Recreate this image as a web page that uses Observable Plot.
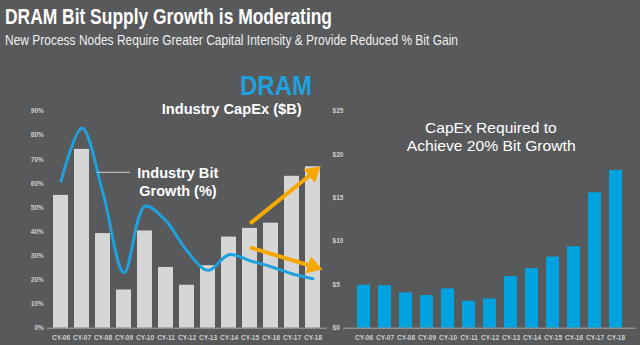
<!DOCTYPE html>
<html><head><meta charset="utf-8">
<script src="https://cdn.jsdelivr.net/npm/d3@7"></script>
<script src="https://cdn.jsdelivr.net/npm/@observablehq/plot@0.6"></script>
<style>
html,body{margin:0;padding:0;background:#58595b;}
#wrap{position:relative;width:640px;height:345px;overflow:hidden;background:#58595b;font-family:"Liberation Sans",Arial,sans-serif;}
#left,#right{position:absolute;top:100px;}
#left{left:0px;}
#right{left:320px;}
#ann{position:absolute;left:0;top:0;pointer-events:none;}
</style></head><body>
<div id="wrap"><div id="left"></div><div id="right"></div>
<svg id="ann" width="640" height="345" font-family="Liberation Sans, Arial, sans-serif">
  <text x="5" y="23.5" font-size="22" font-weight="bold" fill="#ffffff" textLength="327" lengthAdjust="spacingAndGlyphs">DRAM Bit Supply Growth is Moderating</text>
  <text x="5" y="45" font-size="14" fill="#eeeeee" textLength="453" lengthAdjust="spacingAndGlyphs">New Process Nodes Require Greater Capital Intensity &amp; Provide Reduced % Bit Gain</text>
  <text x="240" y="95" font-size="28" font-weight="bold" fill="#1ea1dc" textLength="72" lengthAdjust="spacingAndGlyphs">DRAM</text>
  <text x="161.7" y="114.3" font-size="14" font-weight="bold" fill="#ffffff" textLength="140" lengthAdjust="spacingAndGlyphs">Industry CapEx ($B)</text>
  <text x="137.3" y="177.5" font-size="14.5" font-weight="bold" fill="#ffffff" textLength="81" lengthAdjust="spacingAndGlyphs">Industry Bit</text>
  <text x="139.3" y="195.7" font-size="14.5" font-weight="bold" fill="#ffffff" textLength="77.4" lengthAdjust="spacingAndGlyphs">Growth (%)</text>
  <line x1="97" y1="172.3" x2="130" y2="172.3" stroke="#d0d0d0" stroke-width="1"/>
  <text x="425" y="133.2" font-size="15" fill="#ffffff" textLength="131.7" lengthAdjust="spacingAndGlyphs">CapEx Required to</text>
  <text x="406.7" y="151.3" font-size="15" fill="#ffffff" textLength="169" lengthAdjust="spacingAndGlyphs">Achieve 20% Bit Growth</text>
</svg>
</div>
<script>
const years = ["CY-06","CY-07","CY-08","CY-09","CY-10","CY-11","CY-12","CY-13","CY-14","CY-15","CY-16","CY-17","CY-18"];
const industryCapex = [15.3, 20.6, 10.9, 4.4, 11.2, 7.0, 4.95, 7.2, 10.5, 11.5, 12.1, 17.5, 18.6];
const bitGrowthPct = [61, 83, 56, 23, 50.6, 44.5, 32, 24, 30.5, 28, 25.5, 22.6, 20.5];
const capexFor20Pct = [4.95, 4.9, 4.06, 3.76, 4.52, 3.1, 3.37, 5.94, 6.86, 8.2, 9.39, 15.6, 18.17];
const pctTicks = [0, 10, 20, 30, 40, 50, 60, 70, 80, 90];
const dollarTicks = [0, 5, 10, 15, 20, 25];
const arrowFrom = ["CY-15", "CY-15"];
const arrowTo = ["CY-18", "CY-18"];
const arrowFromPct = [43.4, 33.5];
const arrowToPct = [64.5, 25.6];
const arrowHeadTurn = [50, 108];

const font = "Liberation Sans, Arial, sans-serif";
const tickColor = "#cfcfcf";
const orange = "#f6a800";

const left = Plot.plot({
  width: 330, height: 245,
  marginLeft: 46.8, marginRight: 3.4, marginTop: 10.7, marginBottom: 17.3,
  style: {background: "transparent", color: tickColor, fontFamily: font, fontSize: "6.5px", fontWeight: "bold", overflow: "visible"},
  x: {domain: years, padding: 0.3},
  y: {domain: [0, 90]},
  marks: [
    Plot.barY(years, {x: d => d, y: (d, i) => industryCapex[i] * 90 / 25, fill: "#d6d6d6"}),
    Plot.ruleY([0], {stroke: "#a9a9a9", strokeWidth: 1}),
    Plot.lineY(years, {x: d => d, y: (d, i) => bitGrowthPct[i], stroke: "#1ea1dc", strokeWidth: 3, curve: "catmull-rom"}),
    Plot.link(arrowFrom, {x1: d => d, y1: (d, i) => arrowFromPct[i], x2: (d, i) => arrowTo[i], y2: (d, i) => arrowToPct[i], stroke: orange, strokeWidth: 4}),
    Plot.dot(arrowTo, {x: d => d, y: (d, i) => arrowToPct[i], symbol: "triangle", r: 6.5, fill: orange, rotate: (d, i) => arrowHeadTurn[i]}),
    Plot.axisX({tickSize: 0, tickPadding: 7, label: null, fontWeight: "bold"}),
    Plot.axisY({ticks: pctTicks, tickFormat: d => d + "%", tickSize: 0, tickPadding: 3.5, label: null, fontWeight: "bold"})
  ]
});
document.getElementById("left").appendChild(left);

const right = Plot.plot({
  width: 320, height: 245,
  marginLeft: 23.1, marginRight: 4.3, marginTop: 10.7, marginBottom: 17.3,
  style: {background: "transparent", color: tickColor, fontFamily: font, fontSize: "6.5px", fontWeight: "bold", overflow: "visible"},
  x: {domain: years, padding: 0.36},
  y: {domain: [0, 25]},
  marks: [
    Plot.barY(years, {x: d => d, y: (d, i) => capexFor20Pct[i], fill: "#00a2e0"}),
    Plot.ruleY([0], {stroke: "#a9a9a9", strokeWidth: 1}),
    Plot.axisX({tickSize: 0, tickPadding: 7, label: null, fontWeight: "bold"}),
    Plot.axisY({ticks: dollarTicks, tickFormat: d => "$" + d, tickSize: 0, tickPadding: 0, dx: -11, textAnchor: "start", label: null, fontWeight: "bold"})
  ]
});
document.getElementById("right").appendChild(right);
</script>
</body></html>
